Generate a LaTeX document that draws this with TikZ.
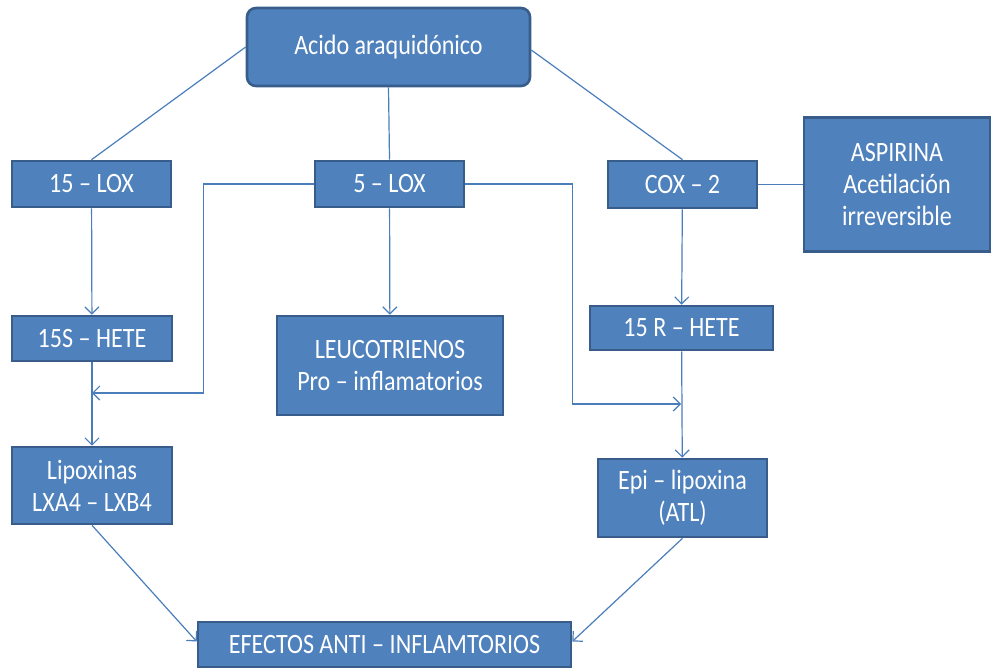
\documentclass[tikz,border=0pt]{standalone}
\usepackage{fontspec}
\setmainfont{Carlito}[FakeStretch=0.86]
\usepackage{xcolor}
\usetikzlibrary{arrows.meta,positioning,calc}
\definecolor{boxblue}{HTML}{4F81BD}
\definecolor{boxedge}{HTML}{385D8A}
\definecolor{linkblue}{HTML}{4A7EBB}
\tikzset{
  stepbox/.style={
    rectangle,
    draw=boxedge,
    line width=2.6pt,
    fill=boxblue,
    text=white,
    align=center,
    inner sep=2pt,
    font=\fontsize{28}{32}\selectfont
  },
  link/.style={
    draw=linkblue,
    line width=1.2pt
  },
  flow/.style={
    link,
    -{Straight Barb[length=7pt,width=14pt,line width=1.2pt]}
  }
}
\begin{document}
\begin{tikzpicture}[x=1pt, y=-1pt]
\useasboundingbox (0,0) rectangle (992,669);

% Top: substrate.
\node[stepbox, rounded corners=9pt, minimum width=283pt, minimum height=78pt]
  (acido) at (388.5,47) {Acido araquidónico};

% Row of enzymes.
\node[stepbox, minimum width=159pt, minimum height=46pt] (lox15) at (91.5,184) {15 -- LOX};
\node[stepbox, minimum width=149pt, minimum height=46pt] (lox5) at (389.5,184) {5 -- LOX};
\node[stepbox, minimum width=149pt, minimum height=47pt] (cox2) at (682.5,184.5) {COX -- 2};
\node[stepbox, minimum width=186pt, minimum height=134pt] (aspirina) at (897,184.5)
  {ASPIRINA\\Acetilación\\irreversible};

% Intermediates.
\node[stepbox, minimum width=160pt, minimum height=45pt] (hete15s) at (92,338.5) {15S -- HETE};
\node[stepbox, minimum width=226pt, minimum height=99pt] (leuco) at (390,365.5)
  {LEUCOTRIENOS\\Pro -- inflamatorios};
\node[stepbox, minimum width=183pt, minimum height=44pt] (hete15r) at (681.5,328) {15 R -- HETE};

% Products.
\node[stepbox, minimum width=160pt, minimum height=77pt] (lipox) at (92,485.5)
  {Lipoxinas\\LXA4 -- LXB4};
\node[stepbox, minimum width=169pt, minimum height=78pt] (epi) at (682.5,498)
  {Epi -- lipoxina\\(ATL)};
\node[stepbox, minimum width=373pt, minimum height=45pt] (efectos) at (384.5,644.5)
  {EFECTOS ANTI -- INFLAMTORIOS};

% Join points on the vertical links.
\coordinate (joinL) at (92,393);
\coordinate (joinR) at (681,404);

% Links without arrow.
\draw[link] (acido.west) -- (lox15.north);
\draw[link] (acido.south) -- (lox5.north);
\draw[link] ($(acido.east)+(0,3)$) -- (cox2.north);
\draw[link] (cox2.east) -- (aspirina.west);

% Arrows.
\draw[flow] (lox15) -- (hete15s);
\draw[flow] (lox5) -- (leuco);
\draw[flow] (cox2) -- (hete15r);
\draw[flow] (hete15s) -- (lipox);
\draw[flow] (hete15r) -- (epi);
\draw[flow] (lox5.west) -- ++(-110,0) |- (joinL);
\draw[flow] (lox5.east) -- ++(107,0) |- (joinR);
\draw[flow] (lipox.south) -- ($(efectos.west)+(0,-3)$);
\draw[flow] (epi.south) -- ($(efectos.east)+(0,-3)$);

\end{tikzpicture}
\end{document}
